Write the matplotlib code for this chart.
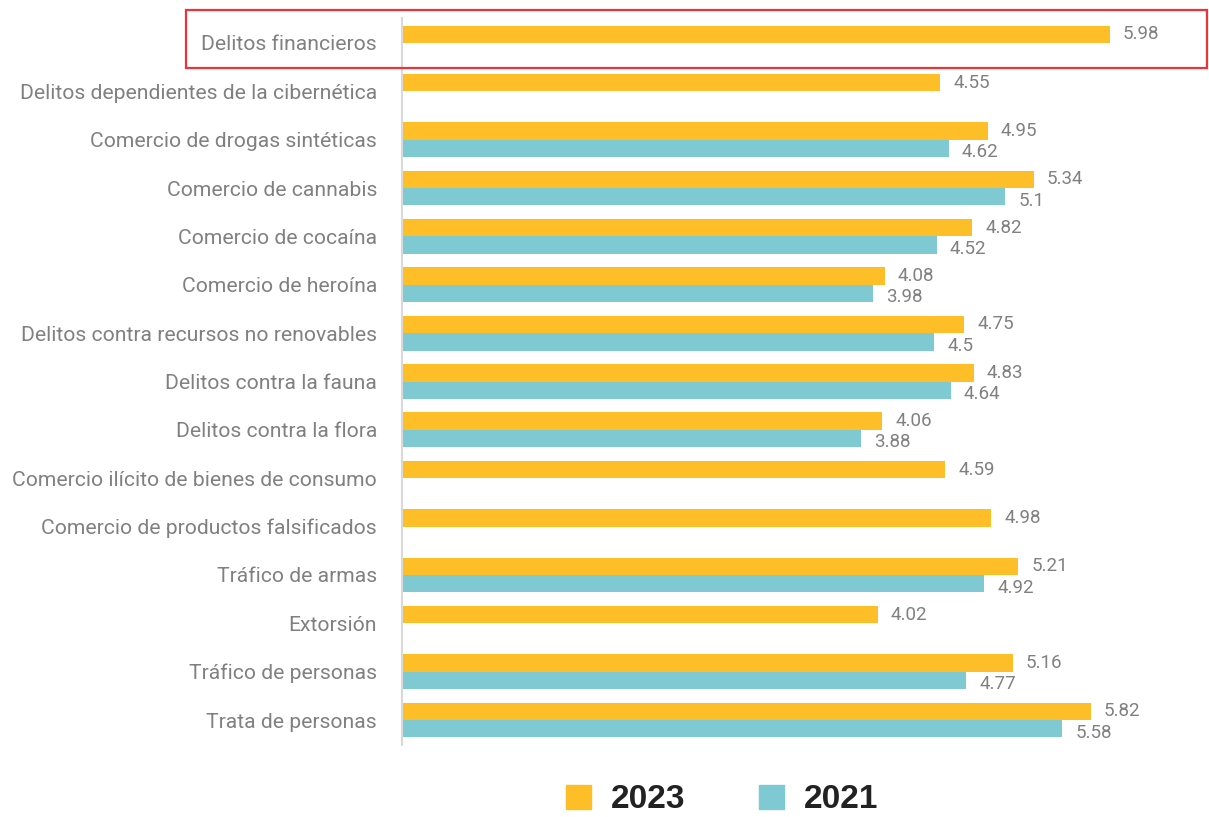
import matplotlib

matplotlib.use("Agg")
import matplotlib.pyplot as plt
from matplotlib.patches import Patch, Rectangle
import numpy as np

plt.rcParams["font.family"] = ["Roboto", "DejaVu Sans"]

categories = [
    "Delitos financieros",
    "Delitos dependientes de la cibernética",
    "Comercio de drogas sintéticas",
    "Comercio de cannabis",
    "Comercio de cocaína",
    "Comercio de heroína",
    "Delitos contra recursos no renovables",
    "Delitos contra la fauna",
    "Delitos contra la flora",
    "Comercio ilícito de bienes de consumo",
    "Comercio de productos falsificados",
    "Tráfico de armas",
    "Extorsión",
    "Tráfico de personas",
    "Trata de personas",
]
values_2023 = [5.98, 4.55, 4.95, 5.34, 4.82, 4.08, 4.75, 4.83, 4.06, 4.59, 4.98, 5.21, 4.02, 5.16, 5.82]
values_2021 = [None, None, 4.62, 5.1, 4.52, 3.98, 4.5, 4.64, 3.88, None, None, 4.92, None, 4.77, 5.58]

ORANGE = "#fdbe27"
TEAL = "#7fc9d2"
GRAY_TXT = "#808080"

W, H = 1209, 817
fig = plt.figure(figsize=(W / 100, H / 100), dpi=100)
ax = fig.add_axes([402 / W, 72 / H, (W - 402) / W, (745 - 18) / H])

y = np.arange(len(categories))
bh = 0.36
off = 0.18

v23 = np.array(values_2023)
ax.barh(y - off, v23, height=bh, color=ORANGE, edgecolor="none")
idx21 = [i for i, v in enumerate(values_2021) if v is not None]
v21 = np.array([values_2021[i] for i in idx21])
ax.barh(y[idx21] + off, v21, height=bh, color=TEAL, edgecolor="none")

dx = 0.11
for i, v in enumerate(values_2023):
    ax.text(v + dx, i - off, f"{v:g}", va="center", ha="left",
            fontsize=13.5, color=GRAY_TXT)
for i, v in zip(idx21, v21):
    ax.text(v + dx, i + off + 0.08, f"{v:g}", va="center", ha="left",
            fontsize=13.5, color=GRAY_TXT)

ax.set_xlim(0, 6.82)
ax.set_ylim(14 + 25 / 48.5, -25 / 48.5)
ax.set_yticks(y)
ax.set_yticklabels(categories, fontsize=15.2, color=GRAY_TXT)
ax.tick_params(axis="y", length=0, pad=18)
ax.set_xticks([])
for s in ["top", "right", "bottom"]:
    ax.spines[s].set_visible(False)
ax.spines["left"].set_color("#d9d9d9")
ax.spines["left"].set_linewidth(1.5)

# highlight box around the first row
fig.patches.append(Rectangle((186 / W, (H - 68) / H), (1207 - 186) / W, 58 / H,
                             transform=fig.transFigure, fill=False,
                             edgecolor="#ee3338", linewidth=1.6))

handles = [Patch(color=ORANGE, label="2023"), Patch(color=TEAL, label="2021")]
fig.legend(handles=handles, loc="center", bbox_to_anchor=(0.597, 17 / H),
           ncol=2, frameon=False, handlelength=0.75, handleheight=0.75,
           handletextpad=0.6, columnspacing=2.2,
           prop={"size": 24, "weight": "bold", "family": ["Liberation Sans"]},
           labelcolor="#222222")

fig.savefig("out.png", dpi=100)
